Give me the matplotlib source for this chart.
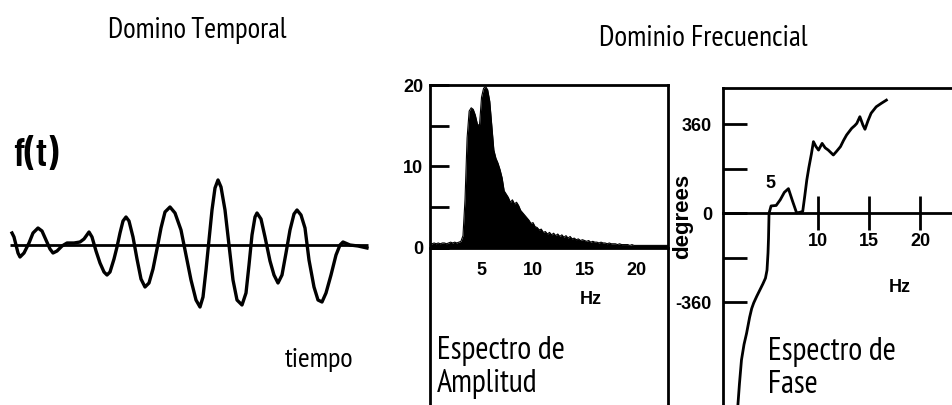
import numpy as np
import matplotlib
matplotlib.use("Agg")
import matplotlib.pyplot as plt
from matplotlib.ticker import FixedLocator

plt.rcParams["font.family"] = ["PT Sans Narrow", "DejaVu Sans"]

# ---- time-domain trace f(t) (t and amplitude in arbitrary units) ----
t_vals = [12, 14, 16, 18, 20, 24, 29, 33, 38, 42, 46, 50, 53, 57, 62, 67, 74, 80,
          84, 89, 92, 96, 100, 104, 107, 110, 114, 117, 120, 123, 126, 129, 133,
          137, 141, 145, 149, 153, 157, 161, 165, 170, 175, 181, 186, 191, 196,
          200, 203, 206, 209, 212, 215, 218, 221, 225, 229, 233, 237, 242, 246,
          249, 252, 255, 257, 261, 265, 270, 274, 278, 282, 286, 290, 294, 297,
          301, 305, 309, 314, 318, 322, 326, 331, 336, 340, 343, 350, 358, 367]
f_vals = [12, 8, 0, -8, -12, -8, 2, 12, 17, 14, 5, -4, -8, -6, -1, 2, 2, 3,
          6, 13, 8, -6, -18, -27, -30, -27, -14, -2, 12, 24, 28, 24, 8,
          -14, -34, -42, -38, -24, -4, 17, 33, 38, 32, 15, -10, -35, -55,
          -62, -52, -25, 5, 35, 57, 65, 58, 35, 0, -35, -55, -60, -48,
          -20, 10, 28, 32, 26, 8, -16, -30, -38, -30, -8, 15, 31, 35,
          30, 17, -15, -42, -55, -57, -48, -30, -10, 0, 3, 0, -1, -3]
t_range = [10, 368]

# ---- amplitude spectrum, sampled every 0.2 Hz from 0 Hz ----
amp_step_hz = 0.2
amplitude = [0.5, 0.5, 0.6, 0.5, 0.6, 0.5, 0.6, 0.6, 0.5, 0.6, 0.7, 0.6, 0.7, 0.6, 0.7, 0.8,
             1.5, 6.0, 13.5, 16.8, 17.2, 17.0, 16.3, 15.2, 15.0, 18.5, 19.6, 19.8, 19.4,
             18.0, 15.0, 12.0, 11.0, 10.4, 9.6, 8.6, 7.0, 6.6, 6.2, 5.6, 5.9, 5.4, 5.6,
             5.2, 4.6, 4.3, 4.0, 3.7, 3.4, 3.0, 3.1, 2.6, 2.5, 2.2, 2.3, 1.9, 2.0, 1.7,
             1.9, 1.6, 1.8, 1.5, 1.7, 1.4, 1.6, 1.3, 1.5, 1.2, 1.4, 1.1, 1.2, 1.0, 1.1,
             0.9, 1.0, 0.9, 0.8, 0.9, 0.7, 0.8, 0.7, 0.7, 0.6, 0.7, 0.6, 0.6, 0.5, 0.6,
             0.5, 0.5, 0.5, 0.4, 0.5, 0.4, 0.4, 0.4, 0.4, 0.3, 0.4, 0.3, 0.3, 0.3,
             0.3, 0.3, 0.3, 0.3, 0.3, 0.3, 0.3, 0.3, 0.3, 0.3, 0.3, 0.3, 0.3, 0.3, 0.3]
amp_yticks = [0, 5, 10, 15, 20]
amp_ylabels = ["0", "", "10", "", "20"]
amp_xticks = [5, 10, 15, 20]
amp_xmarks = [15, 20]

# ---- phase spectrum ----
phase_hz = [2.15, 2.3, 2.5, 2.75, 3.0, 3.3, 3.5, 3.7, 4.0, 4.3, 4.6, 4.85, 5.0, 5.1,
            5.15, 5.2, 5.4, 5.9, 6.3, 6.7, 7.1, 7.5, 7.9, 8.2, 8.5, 8.7, 8.9, 9.1,
            9.35, 9.55, 9.8, 10.05, 10.4, 10.7, 11.0, 11.5, 11.8, 12.2, 12.5, 12.8,
            13.3, 13.6, 13.8, 14.1, 14.4, 14.6, 14.9, 15.2, 15.7, 16.2, 16.7]
phase_deg = [-775, -690, -593, -530, -485, -420, -385, -362, -335, -310, -285, -262,
             -230, -160, -100, 0, 30, 32, 55, 85, 100, 50, 2, 4, 8, 70, 135, 185,
             240, 290, 270, 256, 283, 265, 256, 236, 250, 270, 295, 317, 344, 355,
             364, 391, 357, 340, 375, 405, 431, 445, 458]
phase_yticks = [-360, -180, 0, 180, 360]
phase_ylabels = ["-360", "", "0", "", "360"]
phase_xticks = [10, 15, 20]

W, H = 953, 405
fig = plt.figure(figsize=(W / 100, H / 100), dpi=100)
renderer = fig.canvas.get_renderer()


def px_axes(left, top, right, bottom):
    return fig.add_axes([left / W, 1 - bottom / H, (right - left) / W, (bottom - top) / H])


def fx(x):
    return x / W


def fy(y):
    return 1 - y / H


def fit_width(txt, width_px):
    """Rescale a text's font size so that it spans width_px pixels."""
    w = txt.get_window_extent(renderer).width
    size = txt.get_fontsize() * width_px / w
    txt.set_fontsize(size)
    return size


tick_font = dict(family=["Liberation Sans", "DejaVu Sans"], weight="bold", size=13)

# ---------------- time domain ----------------
ax_t = px_axes(0, 140, 380, 330)
ax_t.set_xlim(0, 380)
ax_t.set_ylim(-85, 105)
ax_t.axis("off")
ax_t.plot(t_range, [0, 0], color="black", lw=2.0, solid_capstyle="butt")
ax_t.plot(t_vals, f_vals, color="black", lw=2.4, solid_joinstyle="round")

fit_width(fig.text(fx(197), fy(38), "Domino Temporal", ha="center", va="baseline",
                   fontsize=20), 177)
fig.text(fx(13), fy(156), "f(t)", ha="left", va="center", fontsize=29,
         family=["Barlow Condensed", "DejaVu Sans"], weight="semibold")
fit_width(fig.text(fx(285), fy(367), "tiempo", ha="left", va="baseline",
                   fontsize=20), 69)
fit_width(fig.text(fx(703), fy(46), "Dominio Frecuencial", ha="center", va="baseline",
                   fontsize=20), 208)

# ---------------- amplitude spectrum ----------------
freq = np.arange(len(amplitude)) * amp_step_hz
ax_a = px_axes(430, 85, 668, 405)
ax_a.set_xlim(0, 23.1)
ax_a.set_ylim(-19.3, 20)
ax_a.fill_between(freq, 0, amplitude, color="black", lw=0)
ax_a.plot(freq, amplitude, color="black", lw=0.8)
for s in ["left", "top", "right", "bottom"]:
    ax_a.spines[s].set_linewidth(2.0)
ax_a.spines["bottom"].set_position(("data", 0))
ax_a.set_yticks(amp_yticks)
ax_a.set_yticklabels(amp_ylabels, fontdict=tick_font)
ax_a.tick_params(axis="y", direction="in", length=14, width=2.0, pad=5)
ax_a.set_xticks(amp_xticks)
ax_a.set_xticklabels([str(v) for v in amp_xticks], fontdict=tick_font)
ax_a.tick_params(axis="x", which="major", length=0, pad=10)
ax_a.xaxis.set_minor_locator(FixedLocator(amp_xmarks))
ax_a.tick_params(axis="x", which="minor", direction="inout", length=20, width=2.0)
ax_a.set_xlabel("Hz", fontdict=tick_font)
ax_a.xaxis.set_label_coords((591 - 430) / 238, (405 - 300) / 320)
ax_a.xaxis.label.set_va("center")

label_size = fit_width(fig.text(fx(437), fy(359), "Espectro de", ha="left",
                                va="baseline", fontsize=20), 128)
fig.text(fx(437), fy(392), "Amplitud", ha="left", va="baseline", fontsize=label_size)

# ---------------- phase spectrum ----------------
ax_p = px_axes(723, 88, 965, 405)
ax_p.set_xlim(0.69, 24.4)
ax_p.set_ylim(-775, 507)
ax_p.plot(phase_hz, phase_deg, color="black", lw=2.0, solid_joinstyle="round")
for s in ["left", "top", "bottom"]:
    ax_p.spines[s].set_linewidth(2.0)
ax_p.spines["right"].set_visible(False)
ax_p.spines["bottom"].set_position(("data", 0))
ax_p.set_yticks(phase_yticks)
ax_p.set_yticklabels(phase_ylabels, fontdict=tick_font)
ax_p.tick_params(axis="y", direction="in", length=17, width=2.0, pad=8)
ax_p.set_xticks(phase_xticks)
ax_p.set_xticklabels([str(v) for v in phase_xticks], fontdict=tick_font)
ax_p.tick_params(axis="x", direction="inout", length=24, width=2.0, pad=2)
ax_p.text(5.3, 122, "5", ha="center", va="center", fontdict=tick_font)
ax_p.set_xlabel("Hz", fontdict=tick_font)
ax_p.xaxis.set_label_coords((900 - 723) / 242, (405 - 287) / 317)
ax_p.xaxis.label.set_va("center")
ax_p.set_ylabel("degrees", fontdict=dict(tick_font, size=16), rotation=90)
ax_p.yaxis.set_label_coords((683 - 723) / 242, (405 - 216) / 317)
ax_p.yaxis.label.set_va("center")

fig.text(fx(768), fy(360), "Espectro de", ha="left", va="baseline", fontsize=label_size)
fig.text(fx(768), fy(393), "Fase", ha="left", va="baseline", fontsize=label_size)

fig.savefig("out.png", dpi=100)
